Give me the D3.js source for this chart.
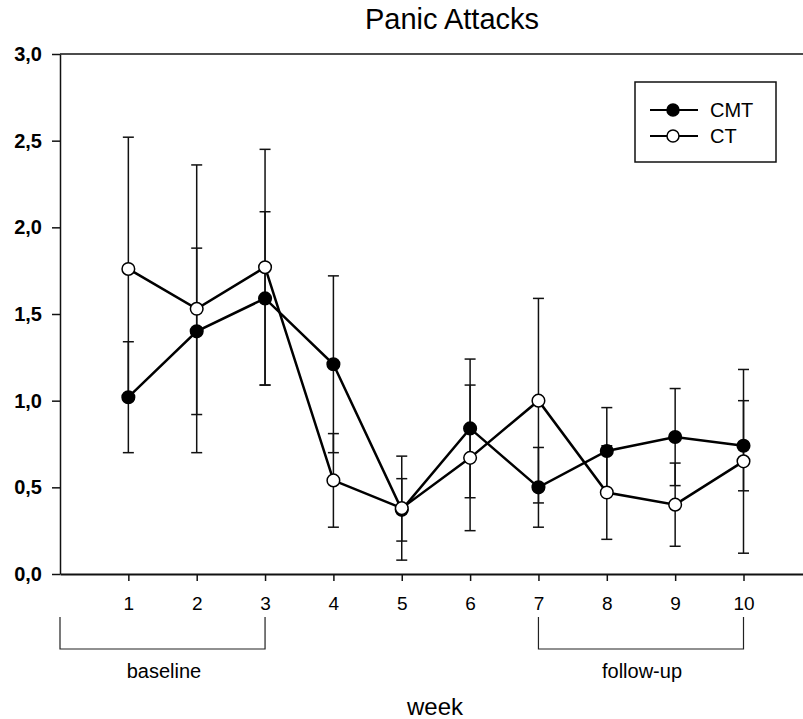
<!DOCTYPE html>
<html>
<head>
<meta charset="utf-8">
<script src="https://cdn.jsdelivr.net/npm/d3@7"></script>
<style>
  body { margin: 0; background: #fff; }
  svg { display: block; font-family: "Liberation Sans", Arial, sans-serif; }
</style>
</head>
<body>
<div id="chart"></div>
<script>
// data (mean +/- error per week)
var weeks = [1, 2, 3, 4, 5, 6, 7, 8, 9, 10];
var cmtMean = [1.02, 1.40, 1.59, 1.21, 0.37, 0.84, 0.50, 0.71, 0.79, 0.74];
var cmtErr  = [0.32, 0.48, 0.50, 0.51, 0.18, 0.40, 0.23, 0.25, 0.28, 0.26];
var ctMean  = [1.76, 1.53, 1.77, 0.54, 0.38, 0.67, 1.00, 0.47, 0.40, 0.65];
var ctErr   = [0.76, 0.83, 0.68, 0.27, 0.30, 0.42, 0.59, 0.27, 0.24, 0.53];
var yTicks = [0, 0.5, 1.0, 1.5, 2.0, 2.5, 3.0];
var seriesNames = ["CMT", "CT"];
var periods = [
  {label: "baseline", from: 0, to: 3},
  {label: "follow-up", from: 7, to: 10}
];

var width = 803, height = 719;
var plotLeft = 60, plotTop = 54, plotBottom = 574;

var svg = d3.select("#chart").append("svg")
    .attr("width", width)
    .attr("height", height);

var x = d3.scaleLinear().domain([0, 11]).range([plotLeft, plotLeft + 11 * 68.35]);
var y = d3.scaleLinear().domain([0, 3]).range([plotBottom, plotTop]);

//title
svg.append("text")
    .attr("x", 452)
    .attr("y", 29)
    .attr("text-anchor", "middle")
    .attr("font-size", 29)
    .text("Panic Attacks");

//top frame line
svg.append("line")
    .attr("x1", plotLeft).attr("x2", width)
    .attr("y1", y(3)).attr("y2", y(3))
    .attr("stroke", "#111").attr("stroke-width", 1.5);

// x axis
var xAxis = svg.append("g")
    .attr("transform", `translate(0, ${plotBottom})`)
    .call(d3.axisBottom(x).tickValues(weeks).tickSize(7).tickPadding(16).tickSizeOuter(0));
xAxis.select(".domain").attr("stroke", "#111").attr("stroke-width", 2);
xAxis.selectAll(".tick line").attr("stroke", "#111").attr("stroke-width", 1.5);
xAxis.selectAll("text")
    .attr("font-size", 19)
    .attr("font-family", "Liberation Sans, Arial, sans-serif")
    .attr("fill", "#000");

// y axis
var yAxis = svg.append("g")
    .attr("transform", `translate(${plotLeft}, 0)`)
    .call(d3.axisLeft(y).tickValues(yTicks).tickSize(8).tickPadding(10).tickSizeOuter(0)
      .tickFormat(function(d) { return d3.format(".1f")(d).replace(".", ","); }));
yAxis.select(".domain").attr("stroke", "#111").attr("stroke-width", 1.5);
yAxis.selectAll(".tick line").attr("stroke", "#111").attr("stroke-width", 1.5);
yAxis.selectAll("text")
    .attr("font-size", 20)
    .attr("font-weight", "bold")
    .attr("font-family", "Liberation Sans, Arial, sans-serif")
    .attr("fill", "#000");

// period brackets under the axis
var brackets = svg.selectAll("g.period").data(periods).enter()
    .append("g").attr("class", "period");
brackets.append("path")
    .attr("d", function(d) {
      return `M${x(d.from)},617 V649 H${x(d.to)} V617`;
    })
    .attr("fill", "none")
    .attr("stroke", "#222")
    .attr("stroke-width", 1.2);
brackets.append("text")
    .attr("x", function(d) { return d.label === "baseline" ? 164 : 642; })
    .attr("y", 678)
    .attr("text-anchor", "middle")
    .attr("font-size", 20)
    .text(function(d) { return d.label; });

// x axis title
svg.append("text")
    .attr("x", 435)
    .attr("y", 715)
    .attr("text-anchor", "middle")
    .attr("font-size", 24)
    .text("week");

// build series rows
var series = [
  {name: seriesNames[0], fill: "#000", rows: weeks.map(function(w, i) { return {w: w, m: cmtMean[i], e: cmtErr[i]}; })},
  {name: seriesNames[1], fill: "#fff", rows: weeks.map(function(w, i) { return {w: w, m: ctMean[i], e: ctErr[i]}; })}
];

// error bars first, so the markers sit on top
var capW = 5.5;
series.forEach(function(s) {
  var eb = svg.append("g").attr("stroke", "#111").attr("stroke-width", 1.5);
  eb.selectAll("line.bar").data(s.rows).enter().append("line")
      .attr("x1", function(d) { return x(d.w); })
      .attr("x2", function(d) { return x(d.w); })
      .attr("y1", function(d) { return y(d.m - d.e); })
      .attr("y2", function(d) { return y(d.m + d.e); });
  eb.selectAll("line.capHi").data(s.rows).enter().append("line")
      .attr("x1", function(d) { return x(d.w) - capW; })
      .attr("x2", function(d) { return x(d.w) + capW; })
      .attr("y1", function(d) { return y(d.m + d.e); })
      .attr("y2", function(d) { return y(d.m + d.e); });
  eb.selectAll("line.capLo").data(s.rows).enter().append("line")
      .attr("x1", function(d) { return x(d.w) - capW; })
      .attr("x2", function(d) { return x(d.w) + capW; })
      .attr("y1", function(d) { return y(d.m - d.e); })
      .attr("y2", function(d) { return y(d.m - d.e); });
});

var line = d3.line()
    .x(function(d) { return x(d.w); })
    .y(function(d) { return y(d.m); });

series.forEach(function(s) {
  svg.append("path")
      .datum(s.rows)
      .attr("d", line)
      .attr("fill", "none")
      .attr("stroke", "#000")
      .attr("stroke-width", 2.5);
  svg.selectAll(null).data(s.rows).enter().append("circle")
      .attr("cx", function(d) { return x(d.w); })
      .attr("cy", function(d) { return y(d.m); })
      .attr("r", 6.3)
      .attr("fill", s.fill)
      .attr("stroke", "#000")
      .attr("stroke-width", 1.5);
});

//legend
var legend = svg.append("g");
legend.append("rect")
    .attr("x", 635).attr("y", 82)
    .attr("width", 141).attr("height", 80)
    .attr("fill", "#fff")
    .attr("stroke", "#111")
    .attr("stroke-width", 1.5);
var items = legend.selectAll("g.item").data(series).enter()
    .append("g")
    .attr("transform", function(d, i) { return `translate(0, ${110 + i * 26})`; });
items.append("line")
    .attr("x1", 650).attr("x2", 698)
    .attr("stroke", "#000").attr("stroke-width", 2);
items.append("circle")
    .attr("cx", 673).attr("r", 6)
    .attr("fill", function(d) { return d.fill; })
    .attr("stroke", "#000").attr("stroke-width", 1.5);
items.append("text")
    .attr("x", 710).attr("y", 7)
    .attr("font-size", 20)
    .text(function(d) { return d.name; });
</script>
</body>
</html>
